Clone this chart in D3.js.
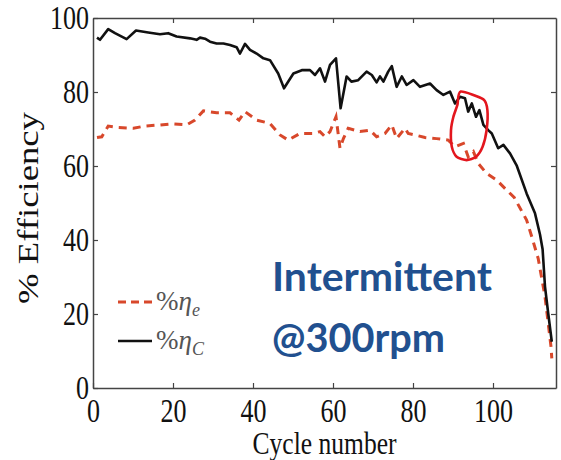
<!DOCTYPE html>
<html>
<head>
<meta charset="utf-8">
<script src="https://cdn.jsdelivr.net/npm/d3@7"></script>
<style>
    body { margin: 0; background: #fff; }
    .tick-label { font-family: "Liberation Serif", "DejaVu Serif", serif; font-size: 33px; fill: #111; }
</style>
</head>
<body>
<div id="chart"></div>
<script>
// η_C (black, solid)
const cycleC = [1, 1.75, 3.8, 5.5, 8.4, 10.75, 13.8, 16.75, 18.8, 20.9, 24.25, 25.9, 26.75, 28, 29.25,
    30.9, 32.6, 34.25, 35.9, 36.75, 38, 39.25, 40.9, 42.6, 44.25, 46.3, 47.75, 50.1, 52.2, 54.25,
    55.5, 56.75, 58, 59.25, 60.75, 61.9, 63.4, 64.6, 66.3, 68.4, 69.7, 70.9, 71.75, 72.6, 73.8,
    74.7, 75.9, 77.2, 78.4, 80.1, 81.75, 84.25, 85.9, 87.6, 89.25, 90.5, 91.75, 93, 93.8, 94.7,
    95.75, 96.6, 97.6, 98.8, 99.7, 101.3, 102.6, 104.25, 105.9, 108.4, 110.5, 111.75, 112.4, 113, 113.8, 114.7];
const effC = [94.7, 94.1, 97.0, 95.9, 94.3, 96.6, 96.1, 95.6, 95.9, 95.0, 94.5, 94.1, 94.7, 94.4, 93.6,
    93.1, 93.1, 92.7, 92.1, 90.4, 93.0, 91.4, 90.4, 89.1, 88.6, 85.0, 81.0, 85.0, 85.9, 85.9,
    84.6, 86.4, 82.8, 87.3, 89.1, 75.6, 84.2, 82.8, 83.2, 85.5, 84.6, 82.6, 84.2, 82.8, 85.5,
    87.0, 81.4, 84.2, 81.9, 83.2, 81.4, 82.3, 80.5, 79.2, 80.1, 76.9, 78.7, 78.3, 74.7, 76.9,
    73.3, 75.1, 71.1, 69.7, 68.8, 64.8, 65.7, 63.4, 60.2, 52.6, 47.2, 41.5, 37.5, 27.4, 20.2, 12.5];

// η_e (red, dashed)
const cycleE = [1, 2.2, 3.8, 6.3, 10.1, 13, 16.75, 19.7, 23.4, 25.5, 27.6, 30.9, 34.25, 36.5, 38,
    40.9, 44.25, 46.75, 48.8, 51.75, 55.1, 56.75, 58, 59.25, 60.75, 61.75, 62.6, 63.8, 66.75, 69.25,
    70.9, 73, 74.7, 75.9, 78, 78.8, 80.5, 83, 85.9, 88.8, 90.5, 92.6, 93.8, 95.1, 96.3,
    98.4, 100.9, 103.4, 105.3, 108.4, 109.8, 111.3, 113, 113.8, 114.5, 114.7];
const effE = [67.7, 67.9, 70.8, 70.4, 70.2, 70.8, 71.1, 71.4, 71.1, 72.4, 74.9, 74.4, 74.4, 72.4, 74.7,
    72.4, 71.5, 68.4, 67.0, 68.8, 68.8, 69.3, 67.9, 69.3, 73.3, 64.8, 67.4, 70.2, 69.3, 69.7,
    67.9, 68.8, 71.1, 67.4, 70.2, 68.8, 68.4, 67.7, 67.4, 67.0, 65.2, 66.1, 62.5, 63.9, 60.7,
    58.0, 56.2, 53.5, 51.5, 45.4, 40.5, 35.0, 24.7, 17.5, 11.2, 8.0];

// hand-drawn red loop around cycles ~90-98
const loopCycle = [91.9, 97.6, 98.6, 98.4, 97.4, 95.75, 93.4, 90.9, 89.7, 89.5, 90.1, 91.1];
const loopEff = [80.1, 78.0, 75.1, 69.7, 65.2, 62.5, 61.6, 62.5, 65.2, 69.7, 73.3, 76.5];

const xTicks = [0, 20, 40, 60, 80, 100];
const yTicks = [0, 20, 40, 60, 80, 100];

const W = 561, H = 460;
const margin = { top: 18, right: 5, bottom: 72, left: 93 };

const svg = d3.select("#chart")
    .append("svg")
    .attr("width", W)
    .attr("height", H);

const x = d3.scaleLinear()
    .domain([0, 115.75])
    .range([margin.left, W - margin.right]);

const y = d3.scaleLinear()
    .domain([0, 100])
    .range([H - margin.bottom, margin.top]);

const axisColor = "#444";

function styleAxis(g) {
    g.selectAll("path.domain").attr("stroke", axisColor).attr("stroke-width", 1.5);
    g.selectAll(".tick line").attr("stroke", axisColor).attr("stroke-width", 1.2);
}

function styleLabels(g) {
    g.selectAll(".tick text")
        .attr("class", "tick-label")
        .attr("font-size", null)
        .attr("font-family", null)
        .attr("textLength", d => String(d).length * 13)
        .attr("lengthAdjust", "spacingAndGlyphs");
}

// bottom + left with labels, ticks pointing inwards
svg.append("g")
    .attr("transform", `translate(0,${y(0)})`)
    .call(d3.axisBottom(x).tickValues(xTicks).tickSize(-5).tickSizeOuter(0).tickPadding(11))
    .call(styleAxis)
    .call(styleLabels);

svg.append("g")
    .attr("transform", `translate(${x(0)},0)`)
    .call(d3.axisLeft(y).tickValues(yTicks).tickSize(-5).tickSizeOuter(0).tickPadding(4))
    .call(styleAxis)
    .call(styleLabels);

// mirrored top + right, ticks only
svg.append("g")
    .attr("transform", `translate(0,${y(100)})`)
    .call(d3.axisTop(x).tickValues(xTicks.slice(1)).tickSize(-5).tickSizeOuter(0).tickFormat(""))
    .call(styleAxis);

svg.append("g")
    .attr("transform", `translate(${x(115.75)},0)`)
    .call(d3.axisRight(y).tickValues(yTicks.slice(1, -1)).tickSize(-5).tickSizeOuter(0).tickFormat(""))
    .call(styleAxis);

// axis titles
svg.append("text")
    .attr("x", (x(0) + x(115.75)) / 2)
    .attr("y", 454)
    .attr("text-anchor", "middle")
    .attr("font-family", "Liberation Serif, serif")
    .attr("font-size", 31)
    .attr("fill", "#111")
    .attr("textLength", 144)
    .attr("lengthAdjust", "spacingAndGlyphs")
    .text("Cycle number");

svg.append("text")
    .attr("transform", "translate(38,208) rotate(-90)")
    .attr("text-anchor", "middle")
    .attr("font-family", "Liberation Serif, serif")
    .attr("font-size", 29)
    .attr("fill", "#111")
    .attr("textLength", 192)
    .attr("lengthAdjust", "spacingAndGlyphs")
    .text("% Efficiency");

// curves
const line = d3.line()
    .x(d => x(d[0]))
    .y(d => y(d[1]));

const dataC = cycleC.map((c, i) => [c, effC[i]]);
const dataE = cycleE.map((c, i) => [c, effE[i]]);

svg.append("path")
    .datum(dataE)
    .attr("d", line)
    .attr("fill", "none")
    .attr("stroke", "#d8482b")
    .attr("stroke-width", 3)
    .attr("stroke-dasharray", "8,6");

svg.append("path")
    .datum(dataC)
    .attr("d", line)
    .attr("fill", "none")
    .attr("stroke", "#111")
    .attr("stroke-width", 2.6)
    .attr("stroke-linejoin", "round");

// red loop annotation
const loop = d3.line()
    .x(d => x(d[0]))
    .y(d => y(d[1]))
    .curve(d3.curveCardinalClosed.tension(0.3));

svg.append("path")
    .datum(loopCycle.map((c, i) => [c, loopEff[i]]))
    .attr("d", loop)
    .attr("fill", "none")
    .attr("stroke", "#e3161e")
    .attr("stroke-width", 2.6);

// legend
const legend = [
    { label: "e", color: "#d8482b", dash: "8,5", ly: 302 },
    { label: "C", color: "#111", dash: null, ly: 341 }
];

legend.forEach(l => {
    svg.append("line")
        .attr("x1", 118).attr("x2", 152)
        .attr("y1", l.ly).attr("y2", l.ly)
        .attr("stroke", l.color)
        .attr("stroke-width", l.dash ? 3 : 2.4)
        .attr("stroke-dasharray", l.dash);

    const t = svg.append("text")
        .attr("x", 156)
        .attr("y", l.ly + 8)
        .attr("font-family", "Liberation Serif, serif")
        .attr("font-size", 27)
        .attr("fill", "#555");
    t.append("tspan").text("%");
    t.append("tspan").attr("font-style", "italic").text("η");
    t.append("tspan")
        .attr("font-style", "italic")
        .attr("font-size", 18)
        .attr("dy", 6)
        .text(l.label);
});

// annotation text
const note = ["Intermittent", "@300rpm"];
const noteY = [291, 352];
const noteLen = [220, 173];

note.forEach((s, i) => {
    svg.append("text")
        .attr("x", 272)
        .attr("y", noteY[i])
        .attr("font-family", "Lato, 'Open Sans', sans-serif")
        .attr("font-weight", "bold")
        .attr("font-size", 41)
        .attr("fill", "#21508f")
        .attr("textLength", noteLen[i])
        .attr("lengthAdjust", "spacingAndGlyphs")
        .text(s);
});
</script>
</body>
</html>
